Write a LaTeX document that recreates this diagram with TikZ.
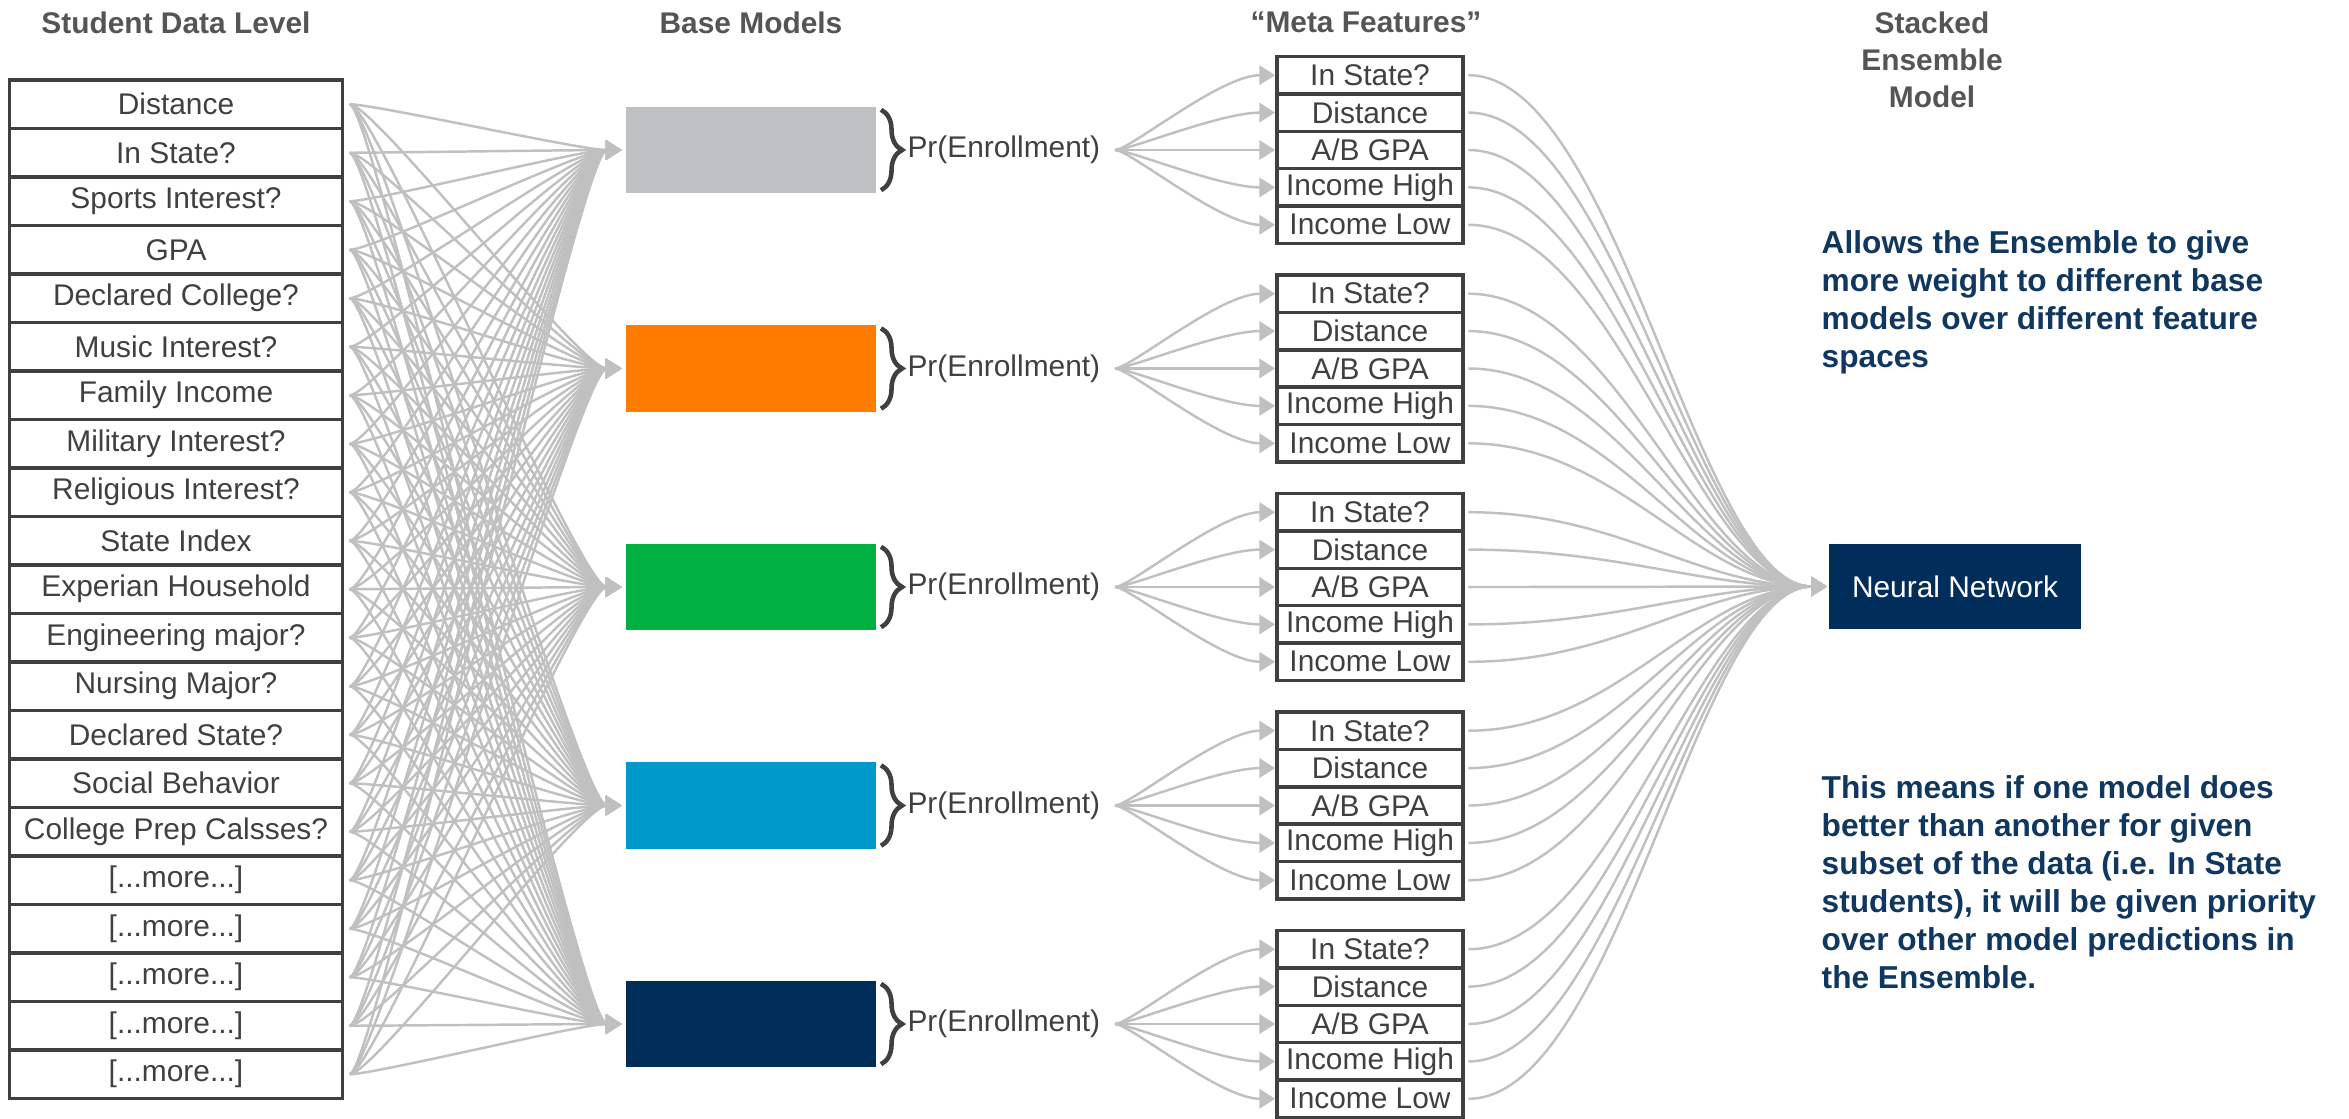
\documentclass[tikz,border=0pt]{standalone}
\usepackage{fontspec}
\setmainfont{Liberation Sans}
\usepackage{tikz}
\usetikzlibrary{arrows.meta}
\usetikzlibrary{positioning}
\usetikzlibrary{decorations.pathreplacing}

\definecolor{boxline}{RGB}{64,64,64}
\definecolor{textgray}{RGB}{64,64,64}
\definecolor{headgray}{RGB}{85,85,85}
\definecolor{fangray}{RGB}{192,192,192}
\definecolor{modelgray}{RGB}{190,192,194}
\definecolor{modelorange}{RGB}{255,124,0}
\definecolor{modelgreen}{RGB}{0,176,64}
\definecolor{modelblue}{RGB}{0,153,204}
\definecolor{modelnavy}{RGB}{0,45,90}
\definecolor{notenavy}{RGB}{16,55,96}

\tikzset {
  % one line of a feature list
  row/.style = {
    draw = boxline,
    line width = 1pt,
    fill = white,
    text = textgray,
    inner sep = 0,
    font = \fontsize{8.5}{10}\selectfont
  },
  data row/.style = {
    row,
    minimum width = 3.33cm,
    minimum height = 0.485cm
  },
  meta row/.style = {
    row,
    minimum width = 1.86cm,
    minimum height = 0.374cm
  },
  % coloured base model block
  base model/.style = {
    rectangle,
    minimum width = 2.5cm,
    minimum height = 0.86cm,
    inner sep = 0
  },
  prob/.style = {
    text = textgray,
    inner sep = 0,
    font = \fontsize{8.5}{10}\selectfont
  },
  nnbox/.style = {
    fill = modelnavy,
    text = white,
    minimum width = 2.51cm,
    minimum height = 0.85cm,
    font = \fontsize{8.5}{10}\selectfont
  },
  heading/.style = {
    text = headgray,
    inner sep = 0,
    align = center,
    font = \bfseries\fontsize{8.5}{10.5}\selectfont
  },
  note/.style = {
    text = notenavy,
    inner sep = 0,
    align = left,
    font = \bfseries\fontsize{9}{10.8}\selectfont
  },
  % grey connector with a tip at its end
  fan/.style = {
    draw = fangray,
    line width = 0.7pt,
    -{Triangle[length=4.5pt,width=5.5pt]}
  },
  brace/.style = {
    draw = boxline,
    line width = 1.3pt,
    decorate,
    decoration = {brace, amplitude = 6pt}
  }
}

\begin{document}
\begin{tikzpicture}[x=0.01cm, y=-0.01cm]
  \useasboundingbox (0,0) rectangle (2349,1118);

  \node[heading, anchor=north] (head-data) at (176,11) {Student Data Level};
  \node[heading, anchor=north] (head-base) at (751,11) {Base Models};
  \node[heading, anchor=north] (head-meta) at (1366,11) {“Meta Features”};
  \node[heading, anchor=north] (head-stack) at (1932,11) {Stacked\\Ensemble\\Model};

  \foreach \lbl [count=\i] in {Distance, In State?, Sports Interest?, GPA,
    Declared College?, Music Interest?, Family Income, Military Interest?,
    Religious Interest?, State Index, Experian Household, Engineering major?,
    Nursing Major?, Declared State?, Social Behavior, College Prep Calsses?}
    \node[data row] (data-\i) at (176, {55.75+48.5*\i}) {\lbl};
  \foreach \i in {17,...,21}
    \node[data row] (data-\i) at (176, {55.75+48.5*\i}) {[...more...]};

  \foreach \col [count=\j] in {modelgray, modelorange, modelgreen, modelblue, modelnavy} {
    \node[base model, fill=\col] (base-\j) at (751, {150+218.5*(\j-1)}) {};
    \draw[brace] ([xshift=1.2pt,yshift=-1pt]base-\j.north east)
      -- ([xshift=1.2pt,yshift=1pt]base-\j.south east);
    \node[prob] (pr-\j) [right=0.3cm of base-\j] {Pr(Enrollment)};
    \foreach \lbl [count=\k] in {In State?, Distance, A/B GPA, Income High, Income Low}
      \node[meta row] (meta-\j-\k) at (1370, {150+218.5*(\j-1)+37.4*(\k-3)}) {\lbl};
  }

  \node[nnbox] (nn) at (1955,586.5) {Neural Network};

  \node[note, anchor=north west] (note-weight) at (1821,230)
    {Allows the Ensemble to give\\more weight to different base\\models over different feature\\spaces};
  \node[note, anchor=north west] (note-priority) at (1821,775)
    {This means if one model does\\better than another for given\\subset of the data (i.e. In State\\students), it will be given priority\\over other model predictions in\\the Ensemble.};

  % student data to every base model
  \foreach \i in {1,...,21}
    \foreach \j in {1,...,5}
      \draw[fan, shorten >=1pt] ([xshift=1.5pt]data-\i.east)
        .. controls +(25,0) and +(-45,0) .. (base-\j.west);

  % predictions to meta features, meta features to the ensemble
  \foreach \j in {1,...,5}
    \foreach \k in {1,...,5} {
      \draw[fan] ([xshift=4pt]pr-\j.east)
        .. controls +(15,0) and +(-55,0) .. (meta-\j-\k.west);
      \draw[fan] ([xshift=1pt]meta-\j-\k.east)
        .. controls +(150,0) and +(-130,0) .. ([xshift=-0.5pt]nn.west);
    }
\end{tikzpicture}
\end{document}
